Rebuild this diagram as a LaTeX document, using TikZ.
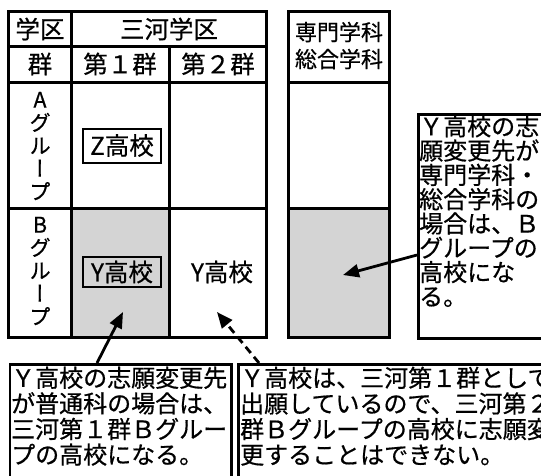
\documentclass[tikz,border=0pt]{standalone}
\usepackage{fontspec}
\setmainfont{Noto Sans CJK JP}[FakeBold=0.6]
\newfontfamily\vertjp{Noto Sans CJK JP}[RawFeature=+vert,FakeBold=0.6]
\usetikzlibrary{arrows.meta}
\tikzset{
  tline/.style={line width=3pt},
  graycell/.style={fill=black!17},
  hdr/.style={font=\fontsize{24.5}{27}\selectfont, inner sep=0pt},
  hdrtwo/.style={font=\fontsize{22}{27}\selectfont, inner sep=0pt, align=center},
  vcol/.style={font=\fontsize{21.5}{23}\selectfont\vertjp, inner sep=0pt, align=center},
  jp/.style={font=\fontsize{24.5}{26}\selectfont, inner sep=0pt},
  sbox/.style={jp, draw, line width=2pt, minimum width=78pt},
  callbox/.style={draw, line width=2.5pt, anchor=north west, inner sep=0pt},
  calltext/.style={anchor=north west, align=left, inner sep=0pt},
  arr/.style={line width=2.8pt, -{Triangle[length=16pt,width=13pt]}},
  darr/.style={arr, dash pattern=on 8pt off 5pt},
}
\begin{document}
\begin{tikzpicture}[x=1pt,y=-1pt]
\useasboundingbox (0,0) rectangle (541,475);
\clip (0,0) rectangle (541,475);
% gray cells
\fill[graycell] (71.5,208.5) rectangle (169.5,337.5);
\fill[graycell] (288.5,208.5) rectangle (389.5,337.5);
% main table
\draw[tline] (8.5,11.5) rectangle (266.5,337.5);
\draw[tline] (71.5,11.5) -- (71.5,337.5);
\draw[tline] (169.5,46) -- (169.5,337.5);
\draw[tline] (8.5,46) -- (266.5,46);
\draw[tline] (8.5,82) -- (266.5,82);
\draw[tline] (8.5,208.5) -- (266.5,208.5);
% right table
\draw[tline] (288.5,11.5) rectangle (389.5,337.5);
\draw[tline] (288.5,82) -- (389.5,82);
\draw[tline] (288.5,208.5) -- (389.5,208.5);
% headers
\node[hdr] (gakku) at (40,29) {学区};
\node[hdr] (mikawa) at (169,29) {三河学区};
\node[hdr] (gun) at (40,64) {群};
\node[hdr] (dai1) at (120,64) {第１群};
\node[hdr] (dai2) at (218,64) {第２群};
\node[hdrtwo] (senmon) at (339,45.5) {専門学科\\総合学科};
\node[vcol] (grA) at (40,146) {A\\グ\\ル\\ー\\プ};
\node[vcol] (grB) at (40,271) {B\\グ\\ル\\ー\\プ};
% schools
\node[sbox, minimum height=34pt] (zko) at (122,145.5) {Z高校};
\node[sbox, minimum height=30pt] (ykoa) at (122,272) {Y高校};
\node[jp] (ykob) at (222,272) {Y高校};
% callouts
\node[callbox, minimum width=200pt, minimum height=224pt] (callR) at (417,113) {};
\node[calltext, font=\fontsize{24}{24.3}\selectfont] (txtR) at (419,115)
  {Ｙ高校の志\\願変更先が\\専門学科・\\総合学科の\\場合は、Ｂ\\グループの\\高校にな\\る。};
\node[callbox, minimum width=221.5pt, minimum height=150pt] (boxL) at (8.5,363) {};
\node[calltext, font=\fontsize{24}{25.6}\selectfont] (txtL) at (11,366.5)
  {Ｙ高校の志願変更先\\が普通科の場合は、\\三河第１群Ｂグルー\\プの高校になる。};
\node[callbox, minimum width=350pt, minimum height=150pt] (boxR) at (237,363) {};
\node[calltext, font=\fontsize{24}{25.6}\selectfont] (txtM) at (240,366.5)
  {Ｙ高校は、三河第１群として\\出願しているので、三河第２\\群Ｂグループの高校に志願変\\更することはできない。};
% arrows
\coordinate (tipL) at (123,312);
\coordinate (tipM) at (217,312);
\coordinate (tipR) at (343,275);
\draw[arr] ([xshift=88.5pt]boxL.north west) -- (tipL);
\draw[darr] ([xshift=22pt]boxR.north west) -- (tipM);
\draw[arr] ([yshift=-142pt]callR.north west) -- (tipR);
\end{tikzpicture}
\end{document}
